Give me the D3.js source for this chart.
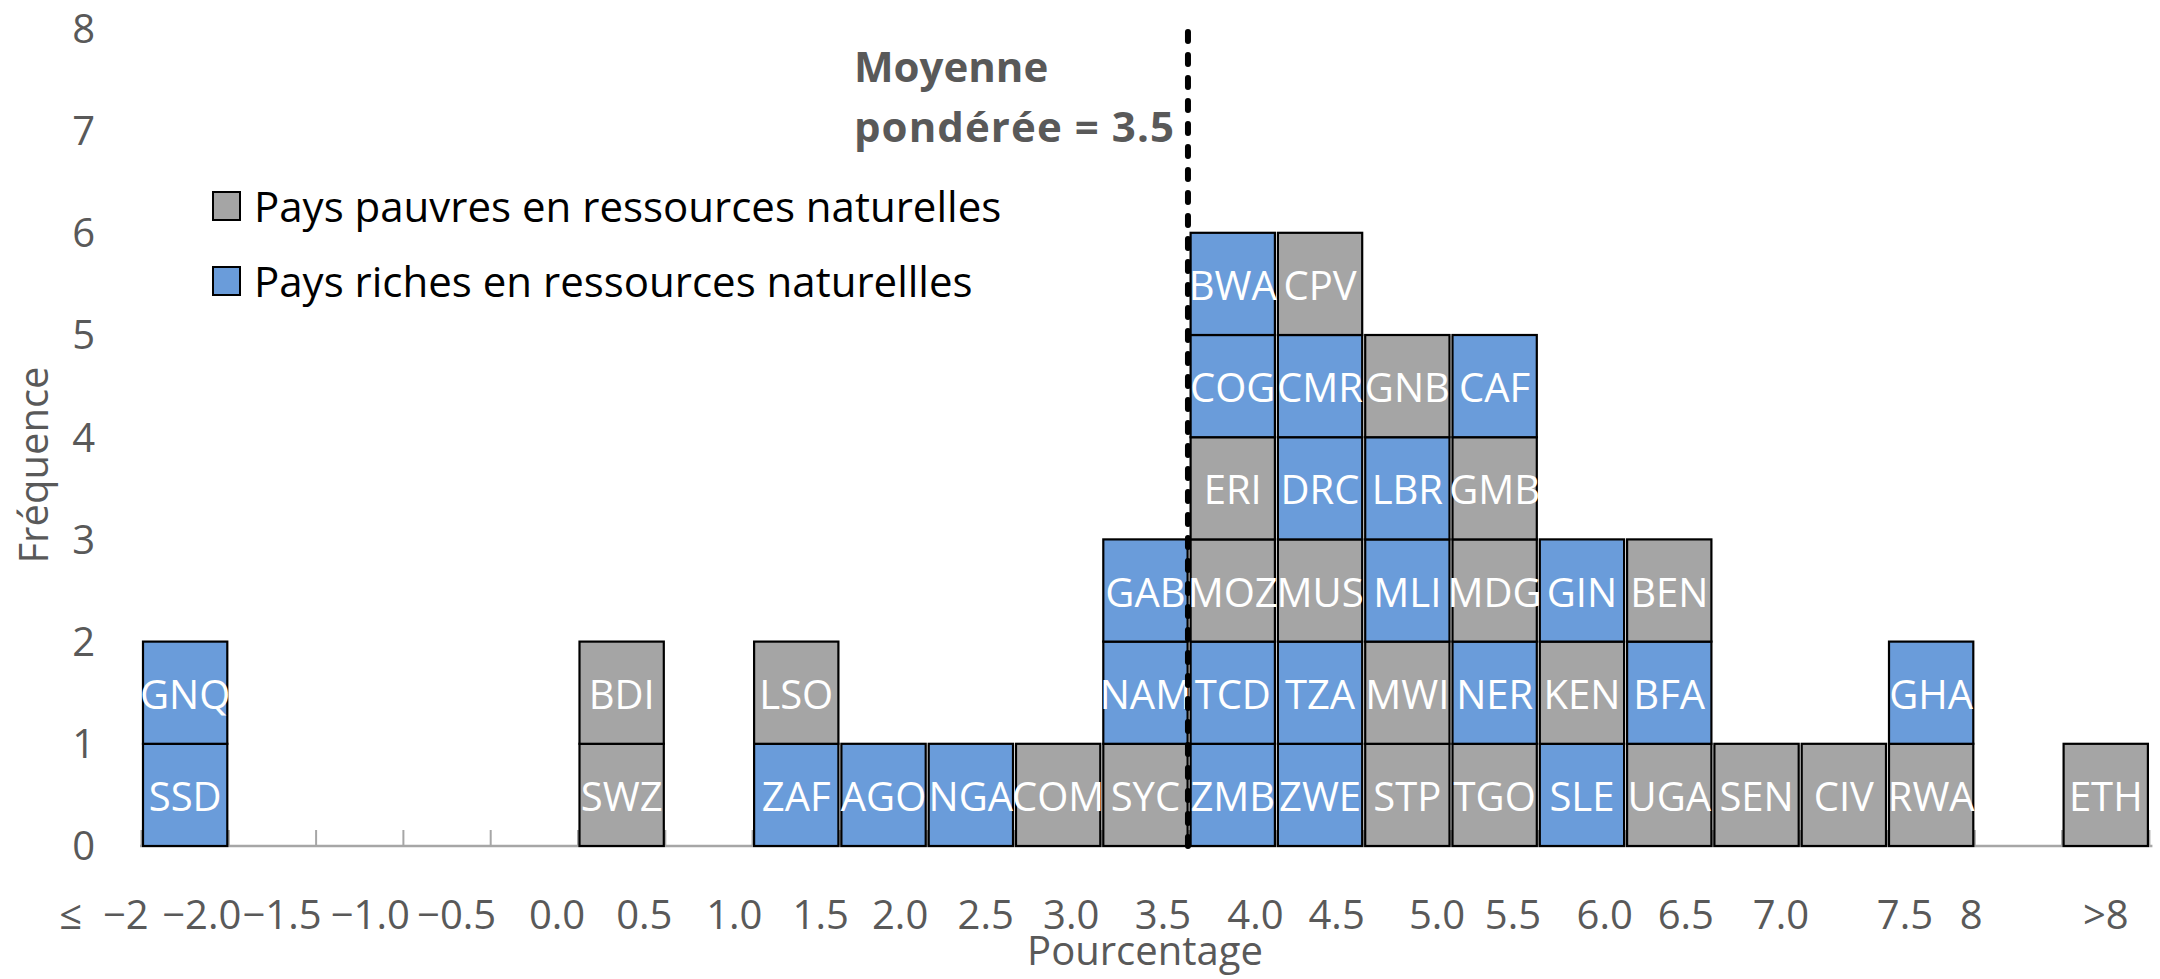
<!DOCTYPE html>
<html>
<head>
<meta charset="utf-8">
<script src="https://cdn.jsdelivr.net/npm/d3@7"></script>
<style>
  body { margin: 0; background: #fff; }
  text { font-family: "Open Sans", "Noto Sans", sans-serif; }
</style>
</head>
<body>
<div id="chart"></div>
<script>
(function() {

  var width = 2160,
      height = 979

  // one entry per country, stacked bottom to top in the order given
  var countries = ["SSD", "GNQ", "SWZ", "BDI", "ZAF", "LSO", "AGO", "NGA", "COM",
    "SYC", "NAM", "GAB",
    "ZMB", "TCD", "MOZ", "ERI", "COG", "BWA",
    "ZWE", "TZA", "MUS", "DRC", "CMR", "CPV",
    "STP", "MWI", "MLI", "LBR", "GNB",
    "TGO", "NER", "MDG", "GMB", "CAF",
    "SLE", "KEN", "GIN",
    "UGA", "BFA", "BEN",
    "SEN", "CIV", "RWA", "GHA", "ETH"]
  var countryBin = [0, 0, 5, 5, 7, 7, 8, 9, 10,
    11, 11, 11,
    12, 12, 12, 12, 12, 12,
    13, 13, 13, 13, 13, 13,
    14, 14, 14, 14, 14,
    15, 15, 15, 15, 15,
    16, 16, 16,
    17, 17, 17,
    18, 19, 20, 20, 22]
  // 1 = riche en ressources naturelles, 0 = pauvre
  var resourceRich = [1, 1, 0, 0, 1, 0, 1, 1, 0,
    0, 1, 1,
    1, 1, 0, 0, 1, 1,
    1, 1, 0, 1, 1, 0,
    0, 0, 1, 1, 0,
    0, 1, 0, 0, 1,
    1, 0, 1,
    0, 1, 0,
    0, 0, 0, 1, 0]

  var binCount = 23
  var tickLabels = ["≤  −2", "−2.0", "−1.5", "−1.0", "−0.5", "0.0", "0.5", "1.0", "1.5",
    "2.0", "2.5", "3.0", "3.5", "4.0", "4.5", "5.0", "5.5", "6.0", "6.5", "7.0",
    "7.5", "8", ">8"]
  // where each label sits along the axis, in bin units
  var tickAt = [-0.43, 0.69, 1.61, 2.62, 3.61, 4.76, 5.76, 6.79, 7.78,
    8.69, 9.67, 10.65, 11.70, 12.76, 13.69, 14.84, 15.71, 16.76, 17.69, 18.78,
    20.20, 20.96, 22.50]
  var yTicks = [0, 1, 2, 3, 4, 5, 6, 7, 8]

  var meanBin = 11.987
  var meanLines = ["Moyenne", "pondérée = 3.5"]
  var legendLabels = ["Pays pauvres en ressources naturelles", "Pays riches en ressources naturellles"]

  var colors = { rich: "#6A9CDA", poor: "#A5A5A5" }

  var svg = d3.select("#chart")
    .append("svg")
    .attr("width", width)
    .attr("height", height)

  var xScale = d3.scaleLinear().domain([0, binCount]).range([141.5, 141.5 + binCount * 87.3])
  var yScale = d3.scaleLinear().domain([0, 8]).range([846, 28.4])
  var binWidth = xScale(1) - xScale(0)

  // build the stack level of every country inside its bin
  var seen = {}
  var cells = countries.map(function(c, i) {
    var b = countryBin[i]
    seen[b] = (seen[b] || 0) + 1
    return { code: c, bin: b, level: seen[b] - 1, rich: resourceRich[i] === 1 }
  })

  // x axis baseline + inside ticks
  svg.append("line")
    .attr("x1", xScale(0) - 1.5)
    .attr("x2", xScale(binCount) + 3)
    .attr("y1", yScale(0))
    .attr("y2", yScale(0))
    .attr("stroke", "#A6A6A6")
    .attr("stroke-width", 2.5)

  svg.selectAll(".tick-mark")
    .data(d3.range(binCount + 1))
    .enter().append("line")
    .attr("class", "tick-mark")
    .attr("x1", function(d) { return xScale(d) })
    .attr("x2", function(d) { return xScale(d) })
    .attr("y1", yScale(0))
    .attr("y2", yScale(0) - 16)
    .attr("stroke", "#A6A6A6")
    .attr("stroke-width", 2)

  // the cells
  svg.selectAll(".cell")
    .data(cells)
    .enter().append("rect")
    .attr("class", "cell")
    .attr("x", function(d) { return xScale(d.bin) + 1.5 })
    .attr("width", binWidth - 3)
    .attr("y", function(d) { return yScale(d.level + 1) })
    .attr("height", function(d) { return yScale(d.level) - yScale(d.level + 1) })
    .attr("fill", function(d) { return d.rich ? colors.rich : colors.poor })
    .attr("stroke", "#000")
    .attr("stroke-width", 2.2)

  svg.selectAll(".cell-label")
    .data(cells)
    .enter().append("text")
    .attr("class", "cell-label")
    .attr("x", function(d) { return xScale(d.bin + 0.5) })
    .attr("y", function(d) { return yScale(d.level + 0.5) })
    .attr("dy", "0.4em")
    .attr("text-anchor", "middle")
    .attr("font-size", 40)
    .attr("fill", "#fff")
    .text(function(d) { return d.code })

  // x tick labels
  svg.selectAll(".x-label")
    .data(tickLabels)
    .enter().append("text")
    .attr("class", "x-label")
    .attr("x", function(d, i) { return xScale(tickAt[i]) })
    .attr("y", 929)
    .attr("text-anchor", "middle")
    .attr("font-size", 40)
    .attr("fill", "#595959")
    .style("white-space", "pre")
    .text(function(d) { return d })

  // y tick labels
  svg.selectAll(".y-label")
    .data(yTicks)
    .enter().append("text")
    .attr("class", "y-label")
    .attr("x", 95)
    .attr("y", function(d) { return yScale(d) })
    .attr("dy", "0.36em")
    .attr("text-anchor", "end")
    .attr("font-size", 40)
    .attr("fill", "#595959")
    .text(function(d) { return d })

  // axis titles
  svg.append("text")
    .attr("x", 1145)
    .attr("y", 965)
    .attr("text-anchor", "middle")
    .attr("font-size", 40)
    .attr("fill", "#595959")
    .text("Pourcentage")

  svg.append("text")
    .attr("transform", "translate(48,465) rotate(-90)")
    .attr("text-anchor", "middle")
    .attr("font-size", 40)
    .attr("fill", "#595959")
    .text("Fréquence")

  // weighted mean line
  var meanX = xScale(meanBin)
  svg.append("line")
    .attr("x1", meanX)
    .attr("x2", meanX)
    .attr("y1", yScale(0))
    .attr("y2", yScale.range()[1] - 3)
    .attr("stroke", "#000")
    .attr("stroke-width", 6)
    .attr("stroke-linecap", "round")
    .attr("stroke-dasharray", "9,14")

  var meanLeft = meanX - 334
  svg.append("text")
    .attr("x", meanLeft)
    .attr("y", 82)
    .attr("font-size", 42)
    .attr("font-weight", "bold")
    .attr("fill", "#595959")
    .text(meanLines[0])

  svg.append("text")
    .attr("x", meanLeft)
    .attr("y", 142)
    .attr("font-size", 42)
    .attr("font-weight", "bold")
    .attr("fill", "#595959")
    .attr("textLength", 320)
    .attr("lengthAdjust", "spacing")
    .text(meanLines[1])

  // legend
  var legend = svg.selectAll(".legend")
    .data(legendLabels)
    .enter().append("g")
    .attr("class", "legend")
    .attr("transform", function(d, i) { return "translate(213," + (192 + i * 75) + ")" })

  legend.append("rect")
    .attr("width", 27)
    .attr("height", 28)
    .attr("fill", function(d, i) { return i === 0 ? colors.poor : colors.rich })
    .attr("stroke", "#000")
    .attr("stroke-width", 2)

  legend.append("text")
    .attr("x", 41)
    .attr("y", 30)
    .attr("font-size", 42)
    .attr("fill", "#000")
    .text(function(d) { return d })

})()
</script>
</body>
</html>
